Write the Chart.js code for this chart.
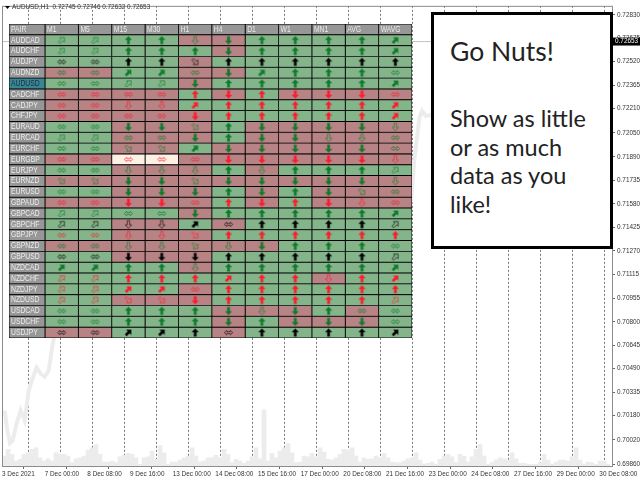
<!DOCTYPE html>
<html>
<head>
<meta charset="utf-8">
<title>AUDUSD,H1</title>
<script src="https://cdn.jsdelivr.net/npm/chart.js@4"></script>
<style>
    html, body { margin: 0; padding: 0; background: #fff; }
    #stage { position: relative; width: 640px; height: 480px; overflow: hidden; }
    canvas { position: absolute; display: block; }
    #priceChart { left: 0; top: 0; }
    #tableChart { left: 9px; top: 24px; }
    #noteBox {
        position: absolute; left: 431px; top: 12px; width: 176px; height: 231px;
        background: #fff; border: 3px solid #000; font-family: Lato, sans-serif; color: #222;
    }
    #noteBox div { position: absolute; left: 16px; white-space: nowrap; }
    #noteBox .big { top: 17px; font-size: 26.5px; line-height: 38px; }
    #noteBox .txt { font-size: 23.5px; line-height: 28.7px; }
</style>
</head>
<body>
<div id="stage">
    <canvas id="priceChart" width="640" height="480"></canvas>
    <canvas id="tableChart" width="403" height="314"></canvas>
    <div id="noteBox">
        <div class="big">Go Nuts!</div>
        <div class="txt" style="top:89px">Show as little</div>
        <div class="txt" style="top:117.7px">or as much</div>
        <div class="txt" style="top:146.4px">data as you</div>
        <div class="txt" style="top:175.1px">like!</div>
    </div>
</div>
<script>
// --- price chart data ---
const chartHeader = 'AUDUSD,H1  0.72745 0.72746 0.72632 0.72653';
const lastPrice = 0.72653;
const yTickValues = [0.72830, 0.72675, 0.72520, 0.72365, 0.72210, 0.72050, 0.71890, 0.71735, 0.71580,
    0.71425, 0.71270, 0.71115, 0.70955, 0.70800, 0.70645, 0.70490, 0.70335, 0.70180, 0.70020, 0.69860];
const xTickLabels = ['3 Dec 2021', '7 Dec 00:00', '8 Dec 08:00', '9 Dec 16:00', '13 Dec 00:00', '14 Dec 08:00',
    '15 Dec 16:00', '17 Dec 00:00', '20 Dec 08:00', '21 Dec 16:00', '23 Dec 00:00', '24 Dec 08:00',
    '27 Dec 16:00', '29 Dec 00:00', '30 Dec 08:00'];
const priceBars = [2, 4, 6, 8, 11, 14, 17, 20, 23, 26, 29, 32, 35, 38, 39, 74, 148, 223, 298, 307, 309, 313, 315, 318, 322, 374, 448];
const priceValues = [0.70214, 0.70083, 0.69998, 0.70017, 0.70129, 0.70214, 0.70148, 0.70345, 0.7043, 0.70496, 0.70457,
    0.70437, 0.70476, 0.70653, 0.70693, 0.71263, 0.71919, 0.71722, 0.71329, 0.7161, 0.71853, 0.72148, 0.72194,
    0.72161, 0.72168, 0.72508, 0.72653];
// tick volume, one value per three bars
const volumeValues = [600, 1000, 700, 300, 400, 700, 800, 1000, 1100, 500, 300, 440, 300, 800, 700, 700, 600, 200, 440, 500,
    600, 960, 1100, 1300, 700, 240, 240, 300, 200, 560, 640, 760, 700, 500, 100, 500, 560, 900, 400, 1240,
    800, 100, 240, 240, 360, 500, 600, 1100, 600, 240, 300, 500, 500, 640, 500, 1000, 700, 200, 400, 300,
    160, 300, 560, 1100, 440, 3400, 300, 760, 500, 900, 1100, 1360, 800, 200, 240, 600, 560, 760, 560,
    1100, 840, 400, 360, 500, 700, 1000, 960, 1100, 600, 240, 500, 400, 440, 600, 500, 760, 500, 240, 200,
    200, 300, 440, 500, 800, 360, 120, 160, 240, 120, 400, 600, 700, 560, 200, 700, 600, 240, 560, 1000,
    1300, 600, 100, 200, 360, 500, 440, 360, 800, 440, 160, 160, 120, 100, 100, 200, 700, 360, 120, 240,
    360, 360, 300, 560, 1100, 360, 120, 240, 200, 100, 300, 300, 120];

// --- table data ---
const timeframes = ['M1', 'M5', 'M15', 'M30', 'H1', 'H4', 'D1', 'W1', 'MN1', 'AVG', 'WAVG'];
const pairNames = ['AUDCAD', 'AUDCHF', 'AUDJPY', 'AUDNZD', 'AUDUSD', 'CADCHF', 'CADJPY', 'CHFJPY', 'EURAUD', 'EURCAD',
    'EURCHF', 'EURGBP', 'EURJPY', 'EURNZD', 'EURUSD', 'GBPAUD', 'GBPCAD', 'GBPCHF', 'GBPJPY', 'GBPNZD',
    'GBPUSD', 'NZDCAD', 'NZDCHF', 'NZDJPY', 'NZDUSD', 'USDCAD', 'USDCHF', 'USDJPY'];
// G = up cell, R = down cell, C = highlighted cell
const cellStates = ['GGGGRRGGGGG', 'GGGGGRGGGGG', 'GGGGRGGGGGG', 'RRGGRRGGGGG', 'GGGGRGGGGGG', 'RRRRGRGRRRR', 'RRRRGGGGGGG',
    'RRRRRGGGGGG', 'GGRRRGRRRRR', 'GGRRRGRRRRR', 'GGRRGRRRRRR', 'RRCCRRRRRRR', 'GGRRRGRGGGG', 'RRRRRRRRRRR',
    'GGRRRGRGRRR', 'RRRRRGRGRRR', 'GGGGRGGGGGG', 'GGRRGRGGGGG', 'GGRRRGGGGGG', 'RRRRRRRGGGG', 'GGRRRGGGGGG',
    'GGGGRGGGGGG', 'GGGGGGGGRGG', 'GGGGRGGGGGG', 'GGRRRGGGGGG', 'GGGGGRRRGRG', 'GGGGGRGRRRG', 'RRGGGRGGGGG'];
// first letter = arrow (U N S D solid, u n s d hollow, h both ways), second = colour
const cellArrows = [
    'ng ng Ug Ug dg Dg Ug Ug Ug Ug Ng', 'ng ng Ug Ug Ug Dg Ug Ug Ug Ug Ng', 'hk hk Uk Uk sk Uk Uk Uk Uk Uk Uk',
    'hg hg Ng Ng hg Dg Ng Ug Ug Ug hg', 'hg hg ng ng Dg Ug Ug Ug Ug Ug Ng', 'hr hr hr hr Ur Dr Ur Dr Dr Dr hr',
    'hr hr dr dr Nr Ur Ur Ur Ur Ur Nr', 'hr hr hr hr Dr Ur Ur Ur Ur Ur Nr', 'hg hg Dg Dg sg Ug Dg Dg Dg Dg dg',
    'ng ng hg hg Dg Ug Dg Dg dg dg hg', 'hg hg sg sg Ng Dg Dg Dg Dg Dg hg', 'hr hr hr hr hr Dr Dr Dr Dr Dr dr',
    'hg hg dg dg dg Ug dg Ug Ug Ug ng', 'sg sg Dg Dg sg Dg Dg Dg Dg Dg dg', 'hg hg Dg Dg Dg Ug Dg Ug Dg sg hg',
    'hr hr Dr Dr hr Ur Dr Ur Dr dr hr', 'ng ng hg hg Dg Ug Ug Ug Ug Ug Ng', 'nk nk dk dk Nk hk Uk Uk Uk Uk nk',
    'hr hr dr dr sr Ur Ur Ur Ur Ur Ur', 'hg hg dg dg sg dg Dg Ug Ug Ug hg', 'hk hk Dk Dk Dk Uk Uk Uk Uk Uk nk',
    'Ng Ng Ug Ug dg Ug Ug Ug Ug Ug Ng', 'nr nr Ur Ur Ur Nr Ur Ur dr Ur Nr', 'nr nr Nr Nr hr Ur Ur Ur Ur Ur Ur',
    'nr nr sr sr Dr Ur Ur Ur Ur Ur nr', 'hg hg Ug Ug Ug Dg dg Dg Ug hg hg', 'hg hg Ug Ug Ug Dg Ug Dg Dg Dg hg',
    'hk hk Nk Nk Uk hk Uk Uk Uk Uk Nk'];

const axisFont = { family: 'Liberation Sans', size: 6.4 };
const tableFont = '8.5px "Liberation Sans"';
const tableTextSqueeze = 0.8;
const shadeColors = { G: '#84b48a', R: '#b78385', C: '#fdf1e5' };
const headGray = '#979797';
const arrowColors = { g: '#0e7a2a', r: '#ff1a2c', k: '#000000' };
const pairColStart = -1.08;

// Draws an arrow once on a small canvas, used as the point style of the table cells
const arrowCache = {};
function arrowIcon(token) {
    if (arrowCache[token]) return arrowCache[token];
    const kind = token[0];
    const color = arrowColors[token[1]];
    const icon = document.createElement('canvas');
    icon.width = 13;
    icon.height = 13;
    const c = icon.getContext('2d');
    c.translate(6.5, 6.5);
    const turn = { u: 0, n: 45, s: 135, d: 180 }[kind.toLowerCase()] || 0;
    c.rotate(turn * Math.PI / 180);
    c.scale(0.85, 0.85);
    const outline = kind === 'h'
        ? [[-5, 0], [-2, -2.6], [-2, -1], [2, -1], [2, -2.6], [5, 0], [2, 2.6], [2, 1], [-2, 1], [-2, 2.6]]
        : [[0, -4.6], [3.8, -0.6], [1.4, -0.6], [1.4, 4.4], [-1.4, 4.4], [-1.4, -0.6], [-3.8, -0.6]];
    c.beginPath();
    outline.forEach((p, i) => (i ? c.lineTo(p[0], p[1]) : c.moveTo(p[0], p[1])));
    c.closePath();
    c.strokeStyle = color;
    c.fillStyle = color;
    if (kind === kind.toUpperCase()) {
        c.lineWidth = 0.4;
        c.fill();
        c.stroke();
    } else {
        c.lineWidth = 1;
        c.globalAlpha = 0.7;
        c.stroke();
    }
    arrowCache[token] = icon;
    return icon;
}

// Frame, price tag and the symbol line at the top left of the price chart
const priceFrame = {
    id: 'priceFrame',
    afterDatasetsDraw(chart) {
        const { ctx, chartArea: a } = chart;
        ctx.save();
        ctx.strokeStyle = '#8c8c8c';
        ctx.lineWidth = 1;
        ctx.strokeRect(a.left + 0.5, a.top + 0.5, a.right - a.left, a.bottom - a.top);
        ctx.restore();
    },
    afterDraw(chart) {
        const { ctx, chartArea: a, scales } = chart;
        const tagY = scales.y.getPixelForValue(lastPrice);
        ctx.save();
        ctx.fillStyle = '#000';
        ctx.fillRect(a.right + 1, tagY - 4, 27, 8);
        ctx.fillStyle = '#fff';
        ctx.font = '6.4px "Liberation Sans"';
        ctx.textBaseline = 'middle';
        ctx.fillText(lastPrice.toFixed(5), a.right + 3, tagY);
        ctx.fillStyle = '#333';
        ctx.fillText(chartHeader, 12, 7.5);
        ctx.beginPath();
        ctx.moveTo(5, 6);
        ctx.lineTo(10, 6);
        ctx.lineTo(7.5, 9);
        ctx.closePath();
        ctx.fillStyle = '#000';
        ctx.fill();
        ctx.restore();
    }
};

new Chart(document.getElementById('priceChart'), {
    type: 'bar',
    data: {
        datasets: [{
            type: 'line',
            data: priceBars.map((bar, i) => ({ x: bar, y: priceValues[i] })),
            borderColor: '#ececec',
            borderWidth: 4,
            pointRadius: 0,
            xAxisID: 'x',
            yAxisID: 'y',
            order: 1
        }, {
            type: 'line',
            data: [{ x: 0, y: lastPrice }, { x: 458, y: lastPrice }],
            borderColor: '#c4c4c4',
            borderWidth: 1,
            pointRadius: 0,
            xAxisID: 'x',
            yAxisID: 'y',
            order: 0
        }, {
            type: 'bar',
            data: volumeValues.map((v, i) => ({ x: i * 3 + 1.5, y: v })),
            backgroundColor: '#ececec',
            barPercentage: 1,
            categoryPercentage: 1,
            xAxisID: 'x',
            yAxisID: 'vol',
            order: 2
        }]
    },
    options: {
        responsive: false,
        animation: false,
        layout: { autoPadding: false, padding: { left: 2, top: 2, right: 0, bottom: 0 } },
        plugins: { legend: { display: false }, tooltip: { enabled: false } },
        scales: {
            x: {
                type: 'linear',
                offset: false,
                min: 0,
                max: 457.5,
                afterBuildTicks(axis) { axis.ticks = xTickLabels.map((_, i) => ({ value: i * 32 })); },
                afterFit(axis) { axis.height = 14; },
                grid: { drawOnChartArea: false, tickLength: 3, color: '#666' },
                border: { display: false },
                ticks: {
                    autoSkip: false, maxRotation: 0, align: 'start', padding: 1,
                    font: axisFont, color: '#333',
                    callback: v => xTickLabels[v / 32]
                }
            },
            dayGrid: {
                type: 'linear',
                position: 'bottom',
                offset: false,
                min: 0,
                max: 457.5,
                afterBuildTicks(axis) {
                    axis.ticks = [];
                    for (let v = 8; v < 457; v += 24) axis.ticks.push({ value: v });
                },
                afterFit(axis) { axis.height = 0; },
                grid: { drawTicks: false, color: '#777', lineWidth: 1 },
                border: { display: false, dash: [2, 2] },
                ticks: { display: false }
            },
            y: {
                type: 'linear',
                position: 'right',
                min: 0.69847,
                max: 0.72889,
                afterBuildTicks(axis) { axis.ticks = yTickValues.map(v => ({ value: v })); },
                afterFit(axis) { axis.width = 28; },
                grid: { drawOnChartArea: false, tickLength: 3, color: '#666' },
                border: { display: false },
                ticks: { font: axisFont, color: '#333', padding: 2, callback: v => v.toFixed(5) }
            },
            vol: { type: 'linear', position: 'right', display: false, min: 0, max: 27800 }
        }
    },
    plugins: [priceFrame]
});

// --- table, one floating bar per cell and one arrow point on top of it ---
const rowLabels = ['PAIR'].concat(pairNames);
const cellBorder = '#000';

function squeezedText(ctx, text, x, y) {
    ctx.fillText(text, x, y, ctx.measureText(text).width * tableTextSqueeze);
}

const tableText = {
    id: 'tableText',
    afterDraw(chart) {
        const { ctx, scales } = chart;
        ctx.save();
        ctx.font = tableFont;
        ctx.textBaseline = 'middle';
        ctx.fillStyle = '#ececec';
        squeezedText(ctx, 'PAIR', scales.x.getPixelForValue(pairColStart) + 2, scales.y.getPixelForValue(0));
        timeframes.forEach((name, i) => {
            squeezedText(ctx, name, scales.x.getPixelForValue(i) + 2, scales.y.getPixelForValue(0));
        });
        pairNames.forEach((name, i) => {
            ctx.fillStyle = name === 'AUDUSD' ? '#16323c' : '#ececec';
            squeezedText(ctx, name, scales.x.getPixelForValue(pairColStart) + 2, scales.y.getPixelForValue(i + 1));
        });
        ctx.restore();
    }
};

const tableSets = [{
    type: 'bar',
    data: rowLabels.map(() => [pairColStart, 0]),
    backgroundColor: rowLabels.map(name => (name === 'AUDUSD' ? '#3a8496' : headGray)),
    borderColor: cellBorder,
    borderWidth: 0.8,
    borderSkipped: false,
    order: 2
}];
timeframes.forEach((name, col) => {
    tableSets.push({
        type: 'bar',
        data: rowLabels.map(() => [col, col + 1]),
        backgroundColor: [headGray].concat(cellStates.map(row => shadeColors[row[col]])),
        borderColor: cellBorder,
        borderWidth: 0.8,
        borderSkipped: false,
        order: 2
    });
});
const arrowPoints = [];
const arrowStyles = [];
cellArrows.forEach((row, r) => {
    row.split(' ').forEach((token, col) => {
        arrowPoints.push({ x: col + 0.5, y: pairNames[r] });
        arrowStyles.push(arrowIcon(token));
    });
});
tableSets.push({
    type: 'scatter',
    data: arrowPoints,
    pointStyle: arrowStyles,
    pointRadius: 5,
    showLine: false,
    order: 0
});

new Chart(document.getElementById('tableChart'), {
    type: 'bar',
    data: { labels: rowLabels, datasets: tableSets },
    options: {
        indexAxis: 'y',
        responsive: false,
        animation: false,
        layout: { autoPadding: false, padding: 0 },
        datasets: { bar: { grouped: false, barPercentage: 1, categoryPercentage: 1 } },
        plugins: { legend: { display: false }, tooltip: { enabled: false } },
        scales: {
            x: { type: 'linear', display: false, min: pairColStart, max: 11 },
            y: { type: 'category', display: false, offset: true }
        }
    },
    plugins: [tableText]
});
</script>
</body>
</html>
